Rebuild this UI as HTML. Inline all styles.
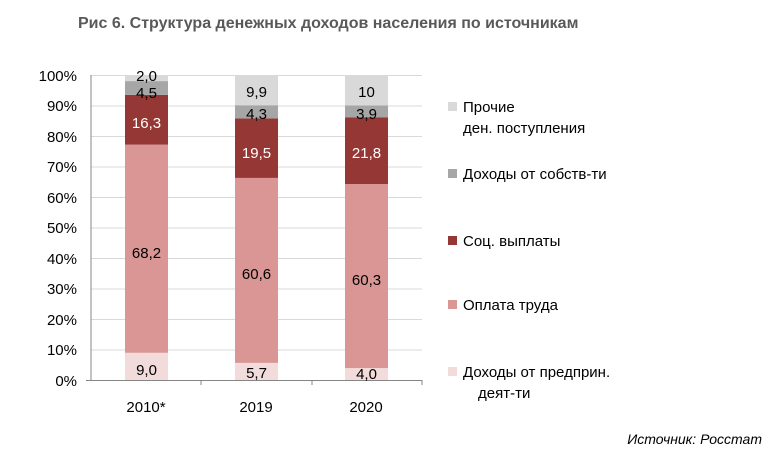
<!DOCTYPE html>
<html><head><meta charset="utf-8"><style>
body{margin:0;background:#fff;width:784px;height:455px;overflow:hidden}
svg text{font-family:"Liberation Sans","DejaVu Sans",sans-serif}
</style></head><body>
<svg width="784" height="455" xmlns="http://www.w3.org/2000/svg">
<text x="78" y="28" font-size="16" font-weight="bold" fill="#595959">Рис 6. Структура денежных доходов населения по источникам</text>
<g stroke="#d9d9d9" stroke-width="1">
<line x1="91" x2="422" y1="75.5" y2="75.5"/><line x1="91" x2="422" y1="106" y2="106"/>
<line x1="91" x2="422" y1="136.5" y2="136.5"/><line x1="91" x2="422" y1="167" y2="167"/>
<line x1="91" x2="422" y1="197.5" y2="197.5"/><line x1="91" x2="422" y1="228" y2="228"/>
<line x1="91" x2="422" y1="258.5" y2="258.5"/><line x1="91" x2="422" y1="289" y2="289"/>
<line x1="91" x2="422" y1="319.5" y2="319.5"/><line x1="91" x2="422" y1="350" y2="350"/>
</g>
<g font-size="15" fill="#000" text-anchor="end">
<text x="77" y="81">100%</text><text x="77" y="111">90%</text><text x="77" y="142">80%</text>
<text x="77" y="172">70%</text><text x="77" y="203">60%</text><text x="77" y="233">50%</text>
<text x="77" y="264">40%</text><text x="77" y="294">30%</text><text x="77" y="325">20%</text>
<text x="77" y="355">10%</text><text x="77" y="386">0%</text>
</g>
<rect x="125" y="352.8" width="43" height="27.5" fill="#f2dcdb"/>
<rect x="125" y="144.6" width="43" height="208.2" fill="#d99694"/>
<rect x="125" y="94.9" width="43" height="49.7" fill="#953735"/>
<rect x="125" y="81.1" width="43" height="13.8" fill="#a6a6a6"/>
<rect x="125" y="75" width="43" height="6.1" fill="#d9d9d9"/>
<rect x="235" y="362.9" width="43" height="17.4" fill="#f2dcdb"/>
<rect x="235" y="177.9" width="43" height="185" fill="#d99694"/>
<rect x="235" y="118.4" width="43" height="59.5" fill="#953735"/>
<rect x="235" y="105.2" width="43" height="13.2" fill="#a6a6a6"/>
<rect x="235" y="75" width="43" height="30.2" fill="#d9d9d9"/>
<rect x="345" y="368.1" width="43" height="12.2" fill="#f2dcdb"/>
<rect x="345" y="184" width="43" height="184.1" fill="#d99694"/>
<rect x="345" y="117.5" width="43" height="66.5" fill="#953735"/>
<rect x="345" y="105.5" width="43" height="12" fill="#a6a6a6"/>
<rect x="345" y="75" width="43" height="30.5" fill="#d9d9d9"/>
<g stroke="#868686" stroke-width="1">
<line x1="91" x2="91" y1="75" y2="381"/>
<line x1="86" x2="422" y1="380.5" y2="380.5"/>
<line x1="201" x2="201" y1="380" y2="385"/><line x1="312" x2="312" y1="380" y2="385"/><line x1="422" x2="422" y1="380" y2="385"/>
</g>
<g font-size="15" text-anchor="middle" fill="#000">
<text x="146.5" y="81">2,0</text><text x="146.5" y="98">4,5</text>
<text x="146.5" y="128" fill="#fff">16,3</text><text x="146.5" y="258">68,2</text><text x="146.5" y="375">9,0</text>
<text x="256.5" y="97">9,9</text><text x="256.5" y="119">4,3</text>
<text x="256.5" y="158" fill="#fff">19,5</text><text x="256.5" y="279">60,6</text><text x="256.5" y="378">5,7</text>
<text x="366.5" y="97">10</text><text x="366.5" y="119">3,9</text>
<text x="366.5" y="158" fill="#fff">21,8</text><text x="366.5" y="285">60,3</text><text x="366.5" y="379">4,0</text>
<text x="146" y="412">2010*</text><text x="256" y="412">2019</text><text x="366" y="412">2020</text>
</g>
<g font-size="15" fill="#000">
<rect x="448" y="102" width="9" height="9" fill="#d9d9d9"/><text x="463" y="112">Прочие</text><text x="463" y="133">ден. поступления</text>
<rect x="448" y="169" width="9" height="9" fill="#a6a6a6"/><text x="463" y="179">Доходы от собств-ти</text>
<rect x="448" y="236" width="9" height="9" fill="#953735"/><text x="463" y="246">Соц. выплаты</text>
<rect x="448" y="300" width="9" height="9" fill="#d99694"/><text x="463" y="310">Оплата труда</text>
<rect x="448" y="367" width="9" height="9" fill="#f2dcdb"/><text x="463" y="377">Доходы от предприн.</text><text x="478" y="398">деят-ти</text>
</g>
<text x="762" y="444" font-size="14" font-style="italic" text-anchor="end" fill="#000">Источник: Росстат</text>
</svg>
</body></html>
